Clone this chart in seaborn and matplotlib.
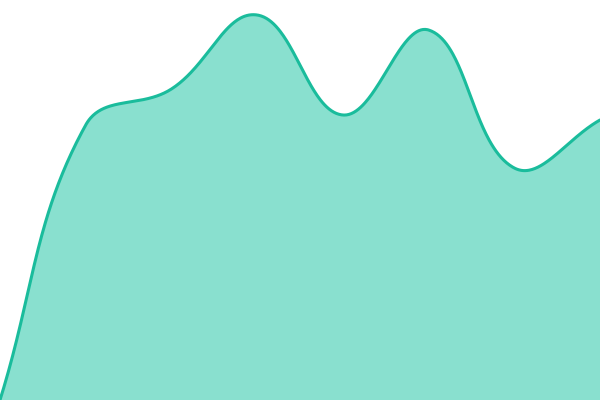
import numpy as np
import pandas as pd
import seaborn as sns
import matplotlib.pyplot as plt

sns.set_theme(style="white")

# chart values (equally spaced categories, no axes shown)
steps = [0, 1, 2, 3, 4, 5, 6, 7]
values = [0, 275, 311, 385, 285, 370, 232, 280]

LINE = "#1abc9c"
FILL = "#89e0cf"
W, H = 600, 400
TENSION = 0.4


def spline_path(px, py, t=TENSION, n=80):
    """Tension spline (distance weighted control points), sampled as beziers."""
    pts = np.column_stack([px, py]).astype(float)
    m = len(pts)
    c_prev, c_next = pts.copy(), pts.copy()
    for i in range(m):
        prev = pts[i - 1] if i > 0 else pts[i]
        nxt = pts[i + 1] if i < m - 1 else pts[i]
        d01 = np.hypot(*(pts[i] - prev))
        d12 = np.hypot(*(nxt - pts[i]))
        tot = d01 + d12
        fa = t * d01 / tot if tot else 0
        fb = t * d12 / tot if tot else 0
        c_prev[i] = pts[i] - fa * (nxt - prev)
        c_next[i] = pts[i] + fb * (nxt - prev)
    # keep control points inside the drawing area
    for c in (c_prev, c_next):
        c[:, 0] = np.clip(c[:, 0], 0, W)
        c[:, 1] = np.clip(c[:, 1], 0, H)
    out = [pts[:1]]
    u = np.linspace(0, 1, n)[1:, None]
    for i in range(m - 1):
        p1, p2, c1, c2 = pts[i], pts[i + 1], c_next[i], c_prev[i + 1]
        out.append((1 - u) ** 3 * p1 + 3 * (1 - u) ** 2 * u * c1 + 3 * (1 - u) * u**2 * c2 + u**3 * p2)
    curve = np.vstack(out)
    return curve[:, 0], curve[:, 1]


sx = W / (steps[-1] - steps[0])
cx, cy = spline_path(np.array(steps) * sx, np.array(values, float))
curve = pd.DataFrame({"step": cx / sx, "value": cy})

fig = plt.figure(figsize=(6, 4), dpi=100)
ax = fig.add_axes([0, 0, 1, 1])
ax.fill_between(curve["step"], curve["value"], 0, color=FILL, linewidth=0)
sns.lineplot(data=curve, x="step", y="value", color=LINE, linewidth=2.2, ax=ax, sort=False)
ax.set_xlim(steps[0], steps[-1])
ax.set_ylim(0, H)
ax.set_axis_off()
fig.savefig("out.png", dpi=100)
